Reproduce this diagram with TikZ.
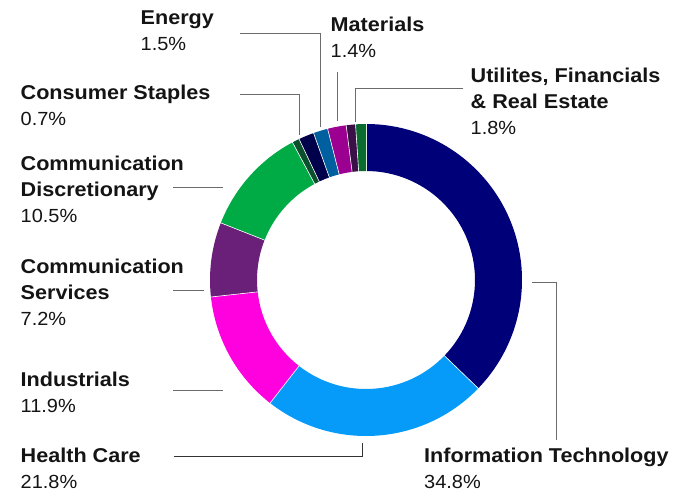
\documentclass[tikz,border=0pt]{standalone}
\usepackage{fontspec}
\setmainfont{Liberation Sans}[FakeStretch=1.05,BoldFeatures={FakeStretch=1.08}]
\usetikzlibrary{calc}

\definecolor{itcol}{HTML}{000078}
\definecolor{hccol}{HTML}{069AF9}
\definecolor{indcol}{HTML}{FF00DE}
\definecolor{cscol}{HTML}{6A1F79}
\definecolor{cdcol}{HTML}{00AB45}
\definecolor{cstcol}{HTML}{0B4F2C}
\definecolor{encol}{HTML}{00004B}
\definecolor{matcol}{HTML}{00609F}
\definecolor{utlcol}{HTML}{9B0090}
\definecolor{fincol}{HTML}{3B1048}
\definecolor{recol}{HTML}{0A6B2E}

\newcommand\sname[1]{{\fontsize{20}{26}\selectfont\bfseries #1}}

\begin{document}
\begin{tikzpicture}[x=1pt,y=-1pt,
  sector/.style={font=\fontsize{19}{26}\selectfont,align=left,anchor=base west,inner sep=0pt,text=black!92},
  leader/.style={draw=black!58,line width=1pt}]
\useasboundingbox (0,0) rectangle (691,492);
\coordinate (c) at (366,280);

% ring, clockwise from the top
\begin{scope}[shift={(c)}]
\foreach \s/\e/\col in {0/34.8/itcol,34.8/56.6/hccol,56.6/68.5/indcol,68.5/75.7/cscol,
  75.7/86.2/cdcol,86.2/86.9/cstcol,86.9/88.4/encol,88.4/89.8/matcol,
  89.8/91.6/utlcol,91.6/92.5/fincol,92.5/93.5/recol}
{
  \pgfmathsetmacro\a{-90+\s/93.5*360}
  \pgfmathsetmacro\b{-90+\e/93.5*360}
  \fill[\col] (\a:156) arc[start angle=\a,end angle=\b,radius=156]
    -- (\b:109) arc[start angle=\b,end angle=\a,radius=109] -- cycle;
  \draw[white,line width=0.6pt] (\a:108) -- (\a:157);
}
\end{scope}

% labels
\node[sector] (en) at (140.5,50.5) {\sname{Energy}\\1.5\%};
\node[sector] (mat) at (330.5,58) {\sname{Materials}\\1.4\%};
\node[sector] (utl) at (470.5,135) {\sname{Utilites, Financials}\\\sname{\& Real Estate}\\1.8\%};
\node[sector] (cst) at (20.5,125.5) {\sname{Consumer Staples}\\0.7\%};
\node[sector] (cd) at (20.5,222.7) {\sname{Communication}\\\sname{Discretionary}\\10.5\%};
\node[sector] (cs) at (20.5,325) {\sname{Communication}\\\sname{Services}\\7.2\%};
\node[sector] (ind) at (20.5,412.7) {\sname{Industrials}\\11.9\%};
\node[sector] (hc) at (20.5,488.3) {\sname{Health Care}\\21.8\%};
\node[sector] (it) at (424,488) {\sname{Information Technology}\\34.8\%};

% leader lines
\coordinate (en-a) at (240,33.3);    \coordinate (en-b) at (320.7,127);
\coordinate (cst-a) at (240,94.3);   \coordinate (cst-b) at (299.3,135);
\coordinate (mat-a) at (337.7,71.7); \coordinate (mat-b) at (337.7,121.5);
\coordinate (utl-a) at (463.3,88.3); \coordinate (utl-b) at (355,122);
\coordinate (cd-a) at (173.3,187.7); \coordinate (cd-b) at (223.3,187.7);
\coordinate (cs-a) at (173.3,290.7); \coordinate (cs-b) at (204,290.7);
\coordinate (ind-a) at (173.3,390.7);\coordinate (ind-b) at (223.3,390.7);
\coordinate (hc-a) at (174,456.7);   \coordinate (hc-b) at (362.3,443.3);
\coordinate (it-a) at (531.7,282.7); \coordinate (it-b) at (556.7,440);

\draw[leader] (en-a) -| (en-b);
\draw[leader] (cst-a) -| (cst-b);
\draw[leader] (mat-a) -- (mat-b);
\draw[leader] (utl-a) -| (utl-b);
\draw[leader] (cd-a) -- (cd-b);
\draw[leader] (cs-a) -- (cs-b);
\draw[leader] (ind-a) -- (ind-b);
\draw[leader,draw=black!80] (hc-a) -| (hc-b);
\draw[leader] (it-a) -| (it-b);
\end{tikzpicture}
\end{document}
